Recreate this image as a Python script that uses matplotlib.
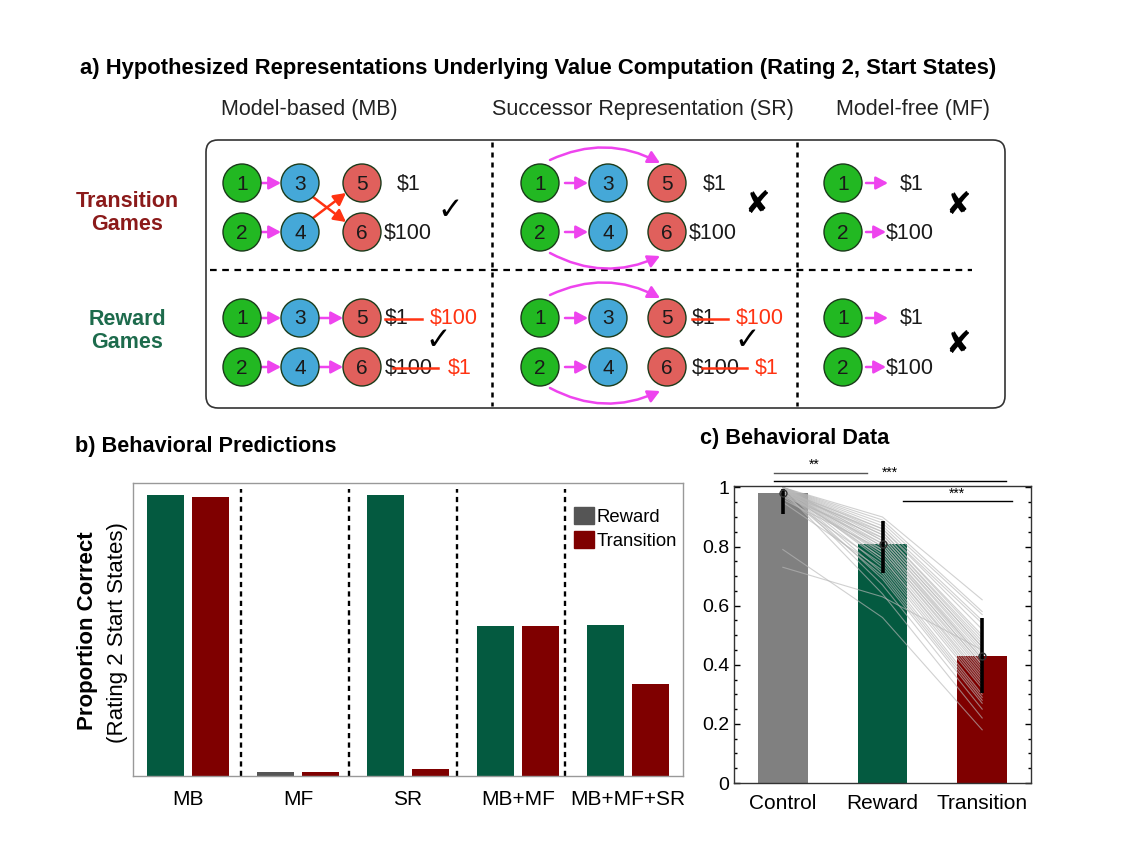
import matplotlib
matplotlib.use('Agg')
import matplotlib.pyplot as plt
from matplotlib.patches import Circle, FancyBboxPatch, Patch

# ---------------- data ----------------
# Panel b: behavioral predictions
pred_groups = ['MB', 'MF', 'SR', 'MB+MF', 'MB+MF+SR']
pred_reward = [1.0, 0.014, 1.0, 0.534, 0.537]
pred_transition = [0.993, 0.014, 0.025, 0.534, 0.327]
pred_reward_colors = ['#045a40', '#555555', '#045a40', '#045a40', '#045a40']

# Panel c: behavioral data
conds = ['Control', 'Reward', 'Transition']
cond_means = [0.98, 0.81, 0.43]
cond_err_low = [0.07, 0.10, 0.125]
cond_err_high = [0.015, 0.075, 0.13]
cond_colors = ['#808080', '#045a40', '#7f0000']

subj_control = [1.0, 1.0, 1.0, 1.0, 0.99, 1.0, 0.98, 1.0, 1.0, 0.99, 1.0, 0.97,
                1.0, 1.0, 0.98, 1.0, 0.99, 1.0, 1.0, 0.96, 1.0, 0.98, 1.0, 1.0,
                0.99, 1.0, 0.97, 1.0, 0.95, 1.0, 0.98, 1.0, 1.0, 0.99, 0.79, 0.73]
subj_reward = [0.90, 0.89, 0.88, 0.87, 0.86, 0.86, 0.85, 0.85, 0.84, 0.84, 0.83, 0.83,
               0.82, 0.82, 0.81, 0.81, 0.80, 0.80, 0.79, 0.79, 0.78, 0.78, 0.77, 0.76,
               0.76, 0.75, 0.74, 0.73, 0.72, 0.71, 0.70, 0.69, 0.67, 0.64, 0.56, 0.63]
subj_transition = [0.62, 0.58, 0.57, 0.55, 0.54, 0.52, 0.50, 0.49, 0.48, 0.47, 0.46, 0.46,
                   0.45, 0.44, 0.43, 0.42, 0.42, 0.41, 0.40, 0.40, 0.39, 0.38, 0.37, 0.36,
                   0.35, 0.34, 0.33, 0.32, 0.30, 0.29, 0.28, 0.27, 0.25, 0.22, 0.18, 0.45]

FONT = 'Liberation Sans'
plt.rcParams['font.family'] = [FONT, 'DejaVu Sans']

fig = plt.figure(figsize=(11.24, 8.56), dpi=100)

# overlay axes in pixel coordinates for panel a + annotations
ov = fig.add_axes([0, 0, 1, 1], zorder=10)
ov.set_xlim(0, 1124)
ov.set_ylim(856, 0)
ov.axis('off')
ov.patch.set_visible(False)

GREEN = '#22b822'
BLUE = '#45a8d8'
RED = '#e0605c'
MAG = '#ee44ee'
ARED = '#ff3312'
R = 19

ov.text(80, 68, 'a) Hypothesized Representations Underlying Value Computation (Rating 2, Start States)',
        fontsize=15.8, fontweight='bold', ha='left', va='center')
for x, t in [(309, 'Model-based (MB)'), (643, 'Successor Representation (SR)'), (913, 'Model-free (MF)')]:
    ov.text(x, 109, t, fontsize=15.5, ha='center', va='center', color='#222222')

box = FancyBboxPatch((206, 140), 799, 268, boxstyle='round,pad=0,rounding_size=12',
                     fc='none', ec='#333333', lw=1.2)
ov.add_patch(box)
ov.plot([210, 972], [270, 270], color='black', lw=1.6, ls=(0, (3, 2.5)))
for x in (492, 797):
    ov.plot([x, x], [142, 406], color='black', lw=1.8, ls=(0, (2, 2)))

ov.text(127, 213, 'Transition\nGames', fontsize=15.5, fontweight='bold', color='#8b1a1a',
        ha='center', va='center', linespacing=1.15)
ov.text(127, 331, 'Reward\nGames', fontsize=15.5, fontweight='bold', color='#1d6b4c',
        ha='center', va='center', linespacing=1.15)


def node(x, y, label, fc):
    ov.add_patch(Circle((x, y), R, fc=fc, ec='#1a3a1a', lw=1.0, zorder=3))
    ov.text(x, y + 1, label, fontsize=15, ha='center', va='center', color='#1a1a1a', zorder=4)


def arrow(p0, p1, color, rad=0.0, lw=1.8):
    ov.annotate('', xy=p1, xytext=p0,
                arrowprops=dict(arrowstyle='-|>,head_length=0.6,head_width=0.32', color=color,
                                lw=lw, shrinkA=0, shrinkB=0, mutation_scale=12,
                                connectionstyle=f'arc3,rad={rad}'), zorder=2)


def money(x, y, t, color='#1a1a1a'):
    ov.text(x, y + 1, t, fontsize=15.5, ha='left', va='center', color=color)


def strike(x0, x1, y):
    ov.plot([x0, x1], [y, y], color=ARED, lw=1.8, zorder=5)


def check(x, y):
    ov.text(x, y, '\u2713', fontsize=22, ha='center', va='center', color='black',
            family='DejaVu Sans')


def cross(x, y):
    ov.text(x, y, '\u2718', fontsize=22, ha='center', va='center', color='black',
            family='DejaVu Sans')


# --- MB column ---
ty1, ty2, ry1, ry2 = 183, 232, 318, 367
xs_mb = (242, 300, 362)
for (y1, y2) in [(ty1, ty2), (ry1, ry2)]:
    node(xs_mb[0], y1, '1', GREEN); node(xs_mb[1], y1, '3', BLUE); node(xs_mb[2], y1, '5', RED)
    node(xs_mb[0], y2, '2', GREEN); node(xs_mb[1], y2, '4', BLUE); node(xs_mb[2], y2, '6', RED)
    arrow((261, y1), (281, y1), MAG)
    arrow((261, y2), (281, y2), MAG)
arrow((313, 197), (346, 222), ARED)
arrow((313, 218), (346, 193), ARED)
arrow((319, ry1), (343, ry1), MAG)
arrow((319, ry2), (343, ry2), MAG)
money(397, ty1, '\\$1')
money(384, ty2, '\\$100')
check(450, 210)
money(385, ry1, '\\$1'); strike(385, 422, ry1 + 1); money(430, ry1, '\\$100', ARED)
money(385, ry2, '\\$100'); strike(393, 438, ry2 + 1); money(448, ry2, '\\$1', ARED)
check(438, 341)

# --- SR column ---
xs_sr = (540, 608, 667)
for (y1, y2) in [(ty1, ty2), (ry1, ry2)]:
    node(xs_sr[0], y1, '1', GREEN); node(xs_sr[1], y1, '3', BLUE); node(xs_sr[2], y1, '5', RED)
    node(xs_sr[0], y2, '2', GREEN); node(xs_sr[1], y2, '4', BLUE); node(xs_sr[2], y2, '6', RED)
    arrow((565, y1), (588, y1), MAG)
    arrow((565, y2), (588, y2), MAG)
    arrow((550, y1 - 23), (660, y1 - 20), MAG, rad=-0.25)
    arrow((550, y2 + 21), (660, y2 + 24), MAG, rad=0.25)
money(703, ty1, '\\$1')
money(689, ty2, '\\$100')
cross(757, 204)
money(692, ry1, '\\$1'); strike(692, 728, ry1 + 1); money(736, ry1, '\\$100', ARED)
money(692, ry2, '\\$100'); strike(702, 747, ry2 + 1); money(755, ry2, '\\$1', ARED)
check(747, 341)

# --- MF column ---
for (y1, y2) in [(ty1, ty2), (ry1, ry2)]:
    node(843, y1, '1', GREEN)
    node(843, y2, '2', GREEN)
    arrow((866, y1), (888, y1), MAG)
    arrow((866, y2), (886, y2), MAG)
    money(900, y1, '\\$1')
    money(886, y2, '\\$100')
cross(958, 205)
cross(958, 344)

# ---------------- panel b ----------------
axb = fig.add_axes([133 / 1124, 1 - 776 / 856, 550 / 1124, 293 / 856])
xg = list(range(len(pred_groups)))
off = 0.206
bw = 0.34
axb.bar([x - off for x in xg], pred_reward, width=bw, color=pred_reward_colors, zorder=2)
axb.bar([x + off for x in xg], pred_transition, width=bw, color='#7f0000', zorder=2)
for i in range(len(pred_groups) - 1):
    axb.axvline(i + 0.48 - 0.017 * i, ymin=0, ymax=0.98, color='black', lw=1.7, ls=(0, (2.2, 1.8)), zorder=1)
axb.set_xlim(-0.5, 4.5)
axb.set_ylim(0, 1.043)
axb.set_yticks([])
axb.set_xticks(xg)
axb.set_xticklabels(pred_groups, fontsize=15)
axb.tick_params(axis='x', length=0, pad=10)
for s in axb.spines.values():
    s.set_color('#999999')
    s.set_linewidth(1.0)
leg = axb.legend(handles=[Patch(color='#555555', label='Reward'), Patch(color='#7f0000', label='Transition')],
                 loc='upper left', bbox_to_anchor=(0.802, 0.918), frameon=False, fontsize=13.3,
                 handlelength=1.08, handleheight=1.03, handletextpad=0.15, labelspacing=0.28,
                 borderpad=0.0, borderaxespad=0.0)

ov.text(75, 446, 'b) Behavioral Predictions', fontsize=15.6, fontweight='bold', ha='left', va='center')
ov.text(88, 631, 'Proportion Correct', fontsize=16, fontweight='bold', rotation=90, ha='center', va='center')
ov.text(117, 633, '(Rating 2 Start States)', fontsize=16, rotation=90, ha='center', va='center')

# ---------------- panel c ----------------
axc = fig.add_axes([734 / 1124, 1 - 783 / 856, 297 / 1124, 297 / 856])
xc = [1, 2, 3]
axc.bar(xc, cond_means, width=0.5, color=cond_colors, zorder=1)
for a, b_, c in zip(subj_control, subj_reward, subj_transition):
    axc.plot(xc, [a, b_, c], color='#b8b8b8', lw=0.8, alpha=0.65, zorder=2)
axc.errorbar(xc, cond_means, yerr=[cond_err_low, cond_err_high], fmt='o', mfc='none', mec='#333333',
             ms=5, ecolor='black', elinewidth=2.6, capsize=0, zorder=3)
axc.set_xlim(0.51, 3.49)
axc.set_ylim(0, 1.005)
axc.set_yticks([0, 0.2, 0.4, 0.6, 0.8, 1.0])
axc.set_yticklabels(['0', '0.2', '0.4', '0.6', '0.8', '1'], fontsize=14)
axc.set_yticks([0.05, 0.1, 0.15, 0.25, 0.3, 0.35, 0.45, 0.5, 0.55, 0.65, 0.7, 0.75, 0.85, 0.9, 0.95],
               minor=True)
axc.set_xticks(xc)
axc.set_xticklabels(conds, fontsize=15)
axc.tick_params(axis='y', which='both', direction='in', right=True, length=4, width=1)
axc.tick_params(axis='y', which='minor', length=2.5)
axc.tick_params(axis='x', length=0, pad=8)
for s in axc.spines.values():
    s.set_color('#333333')
    s.set_linewidth(1.0)

ov.text(700, 438, 'c) Behavioral Data', fontsize=15.6, fontweight='bold', ha='left', va='center')
ov.plot([774, 867], [473, 473], color='#555555', lw=1.0)
ov.text(814, 465, '**', fontsize=10, ha='center', va='center')
ov.plot([774, 1006], [481, 481], color='black', lw=1.0)
ov.text(890, 473, '***', fontsize=10, ha='center', va='center')
ov.plot([903, 1012], [501, 501], color='black', lw=1.0)
ov.text(957, 494, '***', fontsize=10, ha='center', va='center')

fig.savefig('out.png', dpi=100)
